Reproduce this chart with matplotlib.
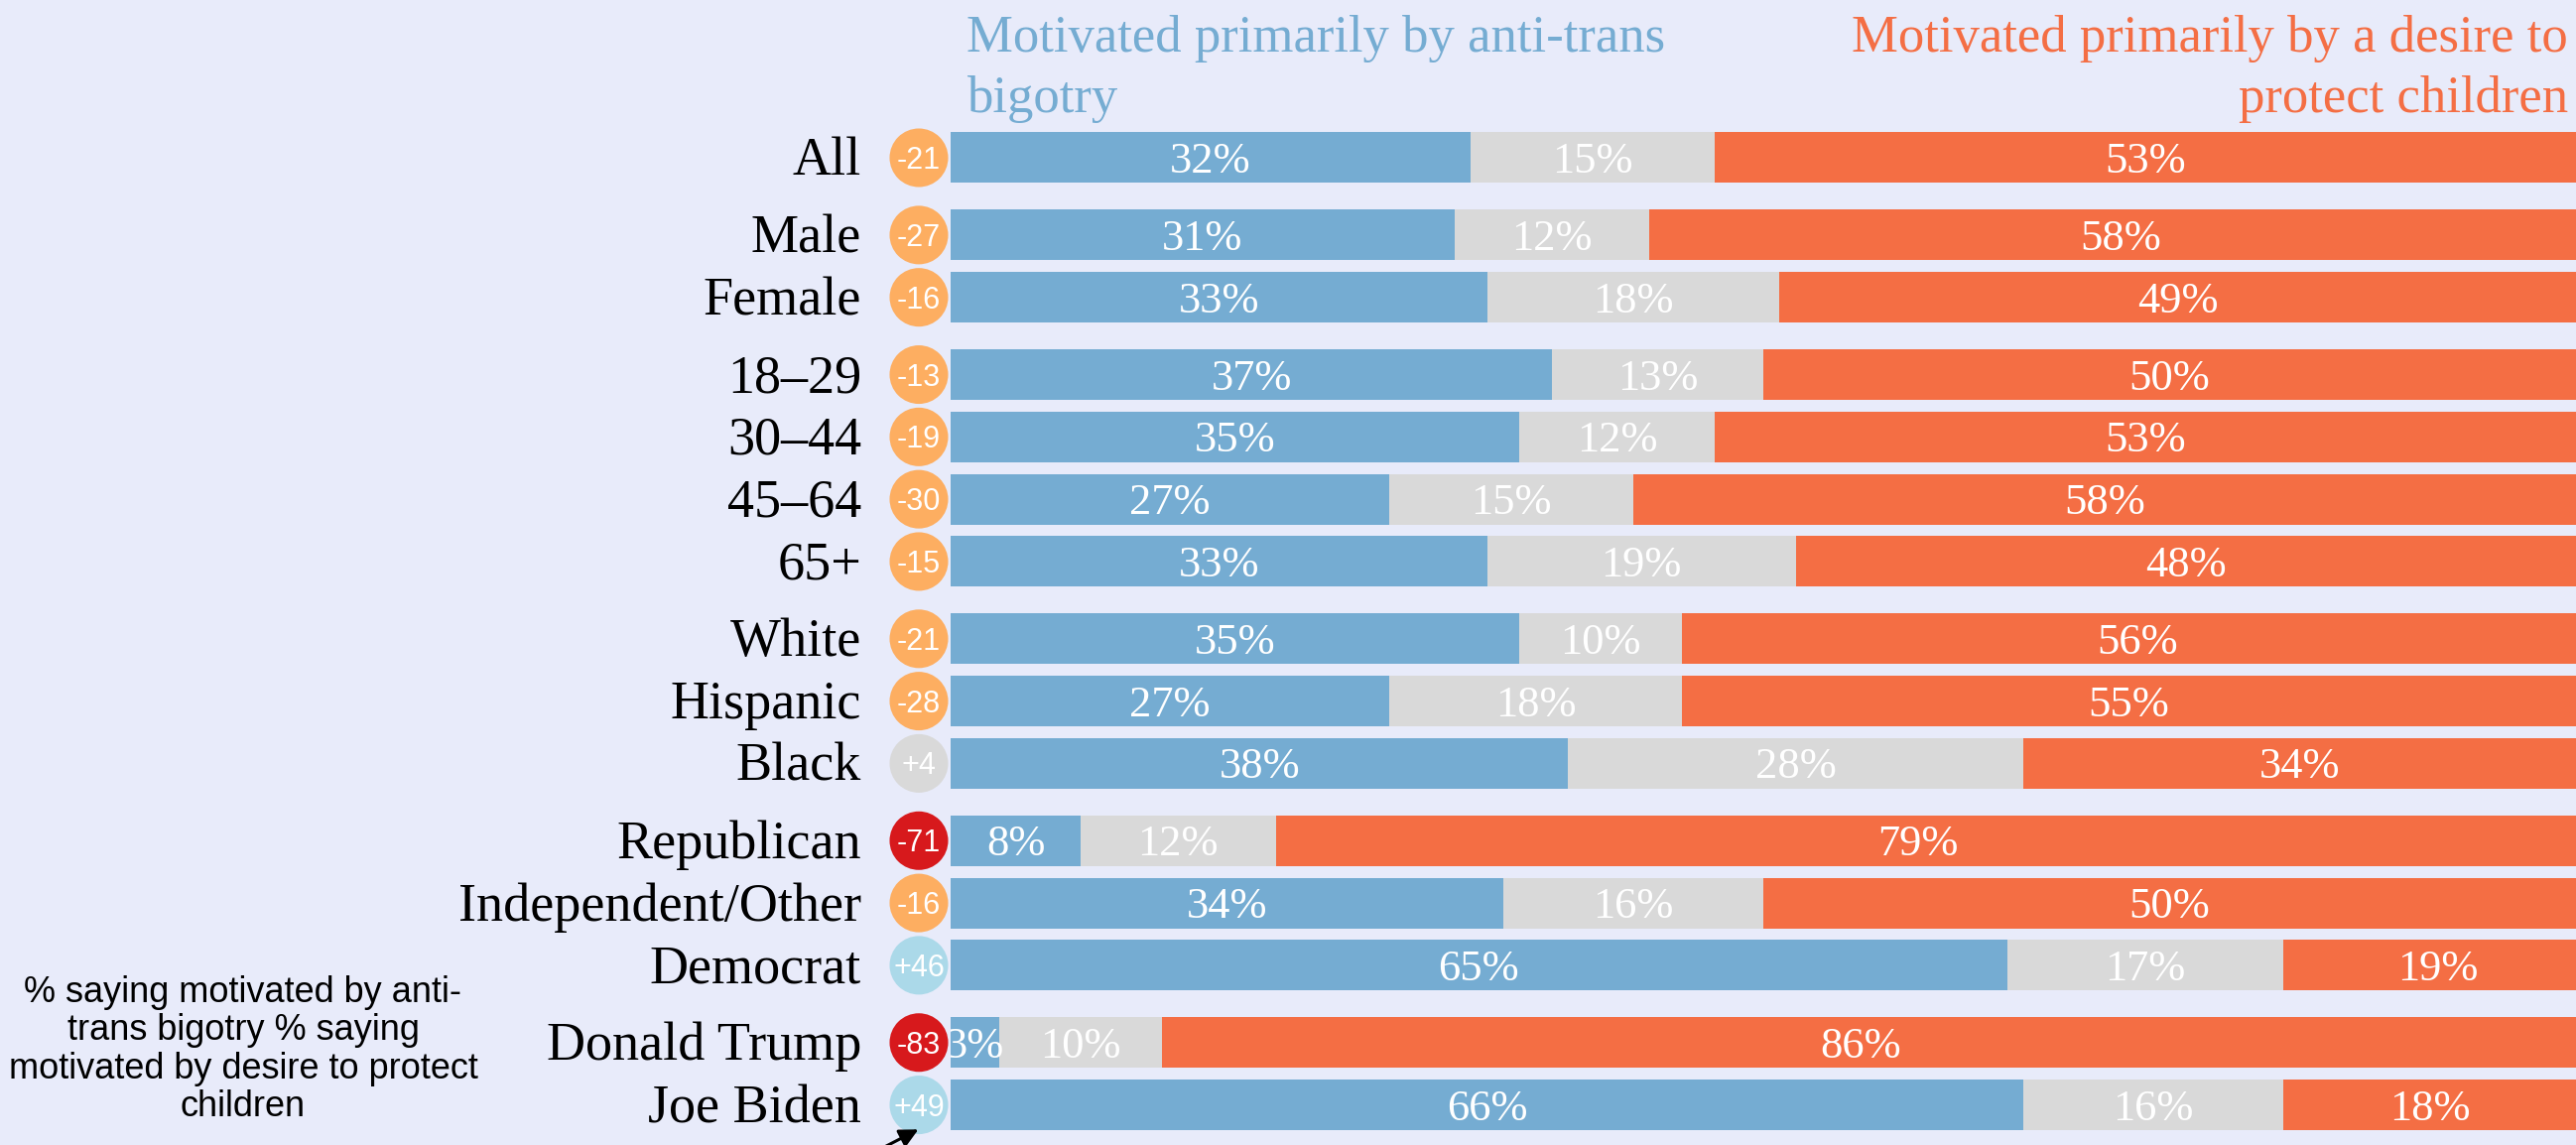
import matplotlib

matplotlib.use("Agg")
import matplotlib.pyplot as plt
from matplotlib import font_manager

# ---------------------------------------------------------------- data
labels = ["All", "Male", "Female", "18–29", "30–44", "45–64", "65+",
          "White", "Hispanic", "Black", "Republican", "Independent/Other",
          "Democrat", "Donald Trump", "Joe Biden"]
group_sizes = [1, 2, 4, 3, 3, 2]
bigotry = [32, 31, 33, 37, 35, 27, 33, 35, 27, 38, 8, 34, 65, 3, 66]
unsure = [15, 12, 18, 13, 12, 15, 19, 10, 18, 28, 12, 16, 17, 10, 16]
protect = [53, 58, 49, 50, 53, 58, 48, 56, 55, 34, 79, 50, 19, 86, 18]
net = [-21, -27, -16, -13, -19, -30, -15, -21, -28, 4, -71, -16, 46, -83, 49]

head_left = "Motivated primarily by anti-trans\nbigotry"
head_right = "Motivated primarily by a desire to\nprotect children"
note = ("% saying motivated by anti-\ntrans bigotry % saying\n"
        "motivated by desire to protect\nchildren")

BG = "#E8EBFA"
BLUE = "#75ACD2"
GRAY = "#D9D9D9"
ORANGE = "#F46E44"

W, H = 2596, 1154
PX = 62.8          # pixel per row unit
Y0 = 159           # pixel centre of first row
GAP = 0.24

installed = {f.name for f in font_manager.fontManager.ttflist}
SERIF = ["Liberation Serif", "DejaVu Serif"]
if "Liberation Sans Narrow" in installed:
    NARROW, NSIZE = ["Liberation Sans Narrow"], 23
else:
    NARROW, NSIZE = ["Liberation Sans", "DejaVu Sans"], 22


def circle_color(v):
    if v <= -50:
        return "#D7191C"
    if v < -10:
        return "#FDAE61"
    if v <= 10:
        return GRAY
    return "#ABD9E9"


# row positions with small gaps between groups
ypos = []
y = 0.0
for n in group_sizes:
    for _ in range(n):
        ypos.append(y)
        y += 1
    y += GAP

fig = plt.figure(figsize=(W / 100, H / 100), dpi=100, facecolor=BG)
ax = fig.add_axes([958 / W, 0, (W - 958) / W, 1])
ax.set_facecolor(BG)
ax.set_xlim(0, 100)
ax.set_ylim((H - Y0) / PX, -Y0 / PX)
ax.axis("off")

bh = 51 / PX
left2 = [a + b for a, b in zip(bigotry, unsure)]
# last segment runs to the edge (rounded shares don't always sum to 100)
rest = [max(p, 100 - l) for p, l in zip(protect, left2)]
ax.barh(ypos, bigotry, height=bh, color=BLUE)
ax.barh(ypos, unsure, left=bigotry, height=bh, color=GRAY)
ax.barh(ypos, rest, left=left2, height=bh, color=ORANGE)

off = 15 / PX
for i, yy in enumerate(ypos):
    segs = [(0, bigotry[i]), (bigotry[i], unsure[i]), (left2[i], protect[i])]
    for lo, w in segs:
        ax.text(lo + w / 2, yy + off, f"{w}%", ha="center", va="baseline",
                color="white", fontsize=32, family=SERIF, clip_on=True)

ytr = ax.get_yaxis_transform()
cx = (926 - 958) / (W - 958)
ax.scatter([cx] * len(ypos), ypos, s=42.5 ** 2,
           c=[circle_color(v) for v in net], transform=ytr, clip_on=False,
           linewidths=0, zorder=5)
for yy, v in zip(ypos, net):
    ax.text(cx, yy + 11 / PX, f"{v:+d}", ha="center",
            va="baseline", color="white", fontsize=NSIZE, family=NARROW,
            transform=ytr, clip_on=False, zorder=6)

for yy, lab in zip(ypos, labels):
    ax.text((868 - 958) / (W - 958), yy + 17.5 / PX, lab, ha="right",
            va="baseline", fontsize=39, family=SERIF, color="black",
            transform=ytr, clip_on=False)

# headers (va=baseline pins the last line)
fig.text(974 / W, 1 - 113 / H, head_left, ha="left", va="baseline",
         color=BLUE, fontsize=38, family=SERIF, linespacing=1.36)
fig.text(2588 / W, 1 - 113 / H, head_right, ha="right", va="baseline",
         multialignment="right", color=ORANGE, fontsize=38, family=SERIF,
         linespacing=1.36)

# legend note + arrow
fig.text(245 / W, 1 - 1058 / H, note, ha="center", va="center",
         multialignment="center", fontsize=26,
         family=["Liberation Sans", "DejaVu Sans"], linespacing=1.13)
ax.annotate("", xy=(928 / W, 1 - 1137 / H), xycoords="figure fraction",
            xytext=(845 / W, 1 - 1180 / H), textcoords="figure fraction",
            arrowprops=dict(arrowstyle="-|>", color="black", lw=2.2,
                            mutation_scale=28), annotation_clip=False, zorder=7)

fig.savefig("out.png", dpi=100, facecolor=BG)
